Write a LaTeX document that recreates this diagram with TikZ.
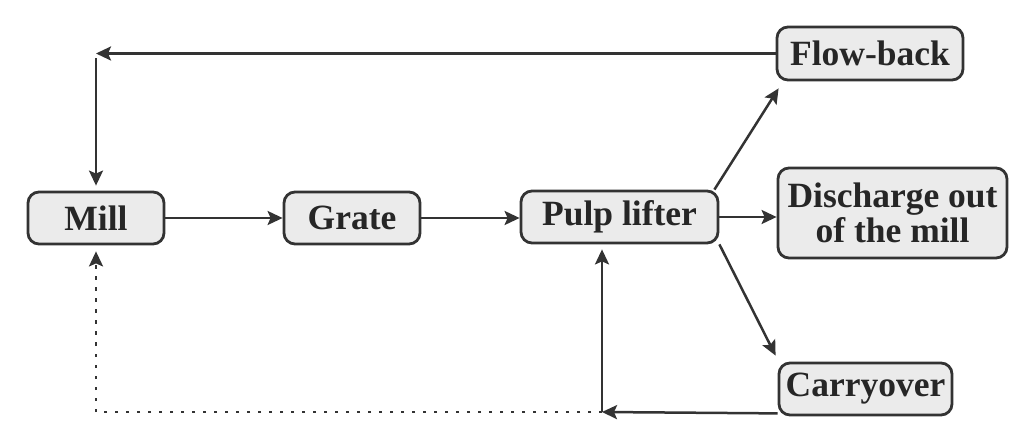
\documentclass[tikz,border=0pt]{standalone}
\usepackage{fontspec}
\setmainfont{Liberation Serif}
\usetikzlibrary{arrows.meta,calc}
\definecolor{linec}{HTML}{333333}
\definecolor{boxfill}{HTML}{EBEBEB}
\definecolor{txt}{HTML}{262626}
\begin{document}
\begin{tikzpicture}[x=1pt,y=-1pt,
  box/.style={draw=linec, line width=2.8pt, rounded corners=11pt, fill=boxfill, inner sep=0pt,
    font=\bfseries\fontsize{35.5}{35}\selectfont, text=txt, align=center},
  tip/.style={-{Stealth[length=15pt,width=14pt,inset=3pt]}},
  arr/.style={draw=linec, line width=2.5pt, tip},
  dotline/.style={draw=linec, line width=2.5pt, dash pattern=on 3.5pt off 7.5pt}]
\useasboundingbox (0,0) rectangle (1028,446);
\node[box,minimum width=136pt,minimum height=52pt] (mill) at (96,218) {Mill};
\node[box,minimum width=136pt,minimum height=52pt] (grate) at (352,218) {Grate};
\node[box,minimum width=197pt,minimum height=52pt] (pulp) at (619.5,217) {Pulp lifter};
\node[box,minimum width=186pt,minimum height=53pt] (flow) at (870,53.5) {Flow-back};
\node[box,minimum width=229pt,minimum height=90pt] (dis) at (892.5,213) {Discharge out\\of the mill};
\node[box,minimum width=173pt,minimum height=52pt] (carry) at (865.5,389) {Carryover};
\coordinate (fb) at (96,53.5);
\coordinate (jc) at (602,412);
\coordinate (dc) at (96,412);
\draw[arr] (flow.west) -- (fb);
\draw[arr,shorten >=5pt] ($(fb)+(0,5)$) -- (mill.north);
\draw[arr] (mill.east) -- (grate.west);
\draw[arr] (grate.east) -- (grate.east -| pulp.west);
\draw[arr] ($(pulp.north east)+(-5,0)$) -- ($(flow.south west)+(3,7)$);
\draw[arr] (pulp.east) -- (pulp.east -| dis.west);
\draw[arr] (pulp.south east) -- ($(carry.north west)+(-2,-6)$);
\draw[arr] ($(carry.south west)+(0,-3)$) -- (jc);
\draw[arr,shorten >=5pt] (jc) -- (jc |- pulp.south);
\draw[dotline,tip,shorten >=6pt] (jc) -- (dc) -- (mill.south);
\end{tikzpicture}
\end{document}
